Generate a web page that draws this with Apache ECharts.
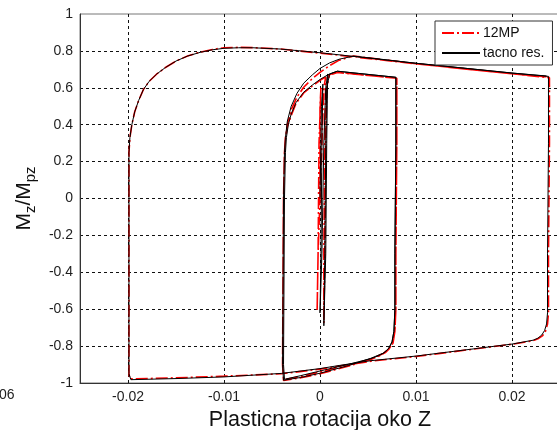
<!DOCTYPE html>
<html>
<head>
<meta charset="utf-8">
<script src="https://cdn.jsdelivr.net/npm/echarts@6/dist/echarts.min.js"></script>
<style>html,body{margin:0;padding:0;background:#fff;}#c{width:557px;height:430px;}</style>
</head>
<body>
<div id="c"></div>
<script>
// ---- data (x = plastic rotation, y = Mz/Mpz) ----
const xTickValues = [-0.02, -0.01, 0, 0.01, 0.02];
const yTickLabels = ['-1','-0.8','-0.6','-0.4','-0.2','0','0.2','0.4','0.6','0.8','1'];
const seriesNames = ['12MP', 'tacno res.'];

const tacnoInner = [
  [0,0],[0.00015,0.5],[0.0003,0.62],[0.0002,0.3],[0.0001,-0.3],[0.0,-0.62],[0.0002,-0.3],[0.0004,0.3],
  [0.0006,0.6],[0.0008,0.675],[0.0007,0.3],[0.0006,-0.3],[0.0004,-0.69],[0.0005,-0.3],[0.0006,0.3],
  [0.0007,0.6],[0.001,0.675],[0.0018,0.69]
];
const tacnoMedium = [
  [0.004,0.678],[0.0079,0.657],[0.0079,0.3],[0.0078,-0.3],[0.0078,-0.6],[0.0077,-0.72],[0.0075,-0.775],
  [0.0072,-0.81],[0.0068,-0.832],[0.0062,-0.85],[0.0053,-0.868],[0.003,-0.898],[0,-0.935],[-0.002,-0.96],
  [-0.0037,-0.98],[-0.0038,-0.9],[-0.0037,0],[-0.0036,0.25],[-0.0035,0.33],[-0.0033,0.4],[-0.003,0.458],
  [-0.0025,0.52],[-0.0017,0.576],[-0.0008,0.615],[0,0.645],[0.0008,0.67],[0.0018,0.69],
  [0.004,0.678],[0.0079,0.657],[0.0079,0.3],[0.0078,-0.3],[0.0078,-0.6],[0.0077,-0.72],[0.0075,-0.78],
  [0.0071,-0.815],[0.0066,-0.838],[0.0053,-0.866],[0.003,-0.905],[0,-0.947],[-0.002,-0.97],[-0.0038,-0.985],
  [-0.0039,-0.9],[-0.0038,0],[-0.0037,0.25],[-0.0036,0.33],[-0.0034,0.42],[-0.003,0.5],[-0.0024,0.57],
  [-0.0017,0.625],[-0.0008,0.67],[0,0.705],[0.001,0.735],[0.002,0.755],[0.0035,0.772]
];
const tacnoOuter = [
  [0.01,0.733],[0.02,0.68],[0.0238,0.662],[0.0238,0.3],[0.0237,-0.3],[0.0237,-0.62],[0.0236,-0.68],
  [0.0234,-0.715],[0.0231,-0.74],[0.0227,-0.757],[0.0222,-0.768],[0.02,-0.789],[0.01,-0.854],
  [0.0053,-0.879],[0.002,-0.905],[0,-0.922],[-0.004,-0.948],[-0.01,-0.967],[-0.015,-0.976],
  [-0.0197,-0.982],[-0.0199,-0.95],[-0.0199,0],[-0.0199,0.25],[-0.0198,0.33],[-0.0196,0.4],
  [-0.0193,0.47],[-0.0189,0.53],[-0.0184,0.59],[-0.0178,0.635],[-0.017,0.675],[-0.0161,0.71],
  [-0.015,0.745],[-0.0138,0.772],[-0.0125,0.792],[-0.0112,0.806],[-0.01,0.814],[-0.0085,0.817],
  [-0.007,0.817],[-0.0041,0.81],[0,0.79],[0.01,0.733],[0.02,0.68],[0.0236,0.664]
];

const mpInner = [
  [0,0],[0.0,0.5],[0.0001,0.6],[-0.0001,0.3],[-0.0002,-0.3],[-0.0003,-0.61],[-0.0002,-0.3],[0.0002,0.3],
  [0.0004,0.6],[0.0006,0.66],[0.0005,0.3],[0.0004,-0.3],[0.0004,-0.675],[0.0005,-0.3],[0.0006,0.3],
  [0.0007,0.6],[0.001,0.672],[0.0018,0.685]
];
const mpMedium = [
  [0.004,0.672],[0.008,0.652],[0.008,0.3],[0.0079,-0.3],[0.0079,-0.6],[0.0078,-0.72],[0.0076,-0.78],
  [0.0072,-0.815],[0.0068,-0.835],[0.0062,-0.853],[0.0053,-0.872],[0.003,-0.902],[0,-0.94],[-0.002,-0.965],
  [-0.0038,-0.982],[-0.0039,-0.9],[-0.0038,0],[-0.0037,0.25],[-0.0036,0.32],[-0.0034,0.39],[-0.003,0.45],
  [-0.0025,0.515],[-0.0017,0.572],[-0.0008,0.61],[0,0.64],[0.0008,0.665],[0.0018,0.683],
  [0.004,0.672],[0.008,0.652],[0.008,0.3],[0.0079,-0.3],[0.0079,-0.6],[0.0078,-0.72],[0.0076,-0.785],
  [0.0071,-0.82],[0.0066,-0.84],[0.0053,-0.87],[0.003,-0.908],[0,-0.95],[-0.002,-0.972],[-0.0038,-0.986],
  [-0.0039,-0.9],[-0.0038,0],[-0.0037,0.25],[-0.0036,0.33],[-0.0034,0.4],[-0.003,0.48],[-0.0024,0.55],
  [-0.0017,0.603],[-0.0008,0.65],[0,0.684],[0.001,0.72],[0.002,0.75],[0.0035,0.772]
];
const mpOuter = [
  [0.01,0.73],[0.02,0.676],[0.0239,0.655],[0.0239,0.3],[0.0238,-0.3],[0.0238,-0.62],[0.0237,-0.68],
  [0.0235,-0.718],[0.0232,-0.743],[0.0227,-0.76],[0.0222,-0.771],[0.02,-0.79],[0.01,-0.856],
  [0.0053,-0.882],[0.002,-0.908],[0,-0.925],[-0.004,-0.95],[-0.01,-0.963],[-0.015,-0.972],
  [-0.0198,-0.978],[-0.0199,-0.95],[-0.0199,0],[-0.0199,0.25],[-0.0198,0.33],[-0.0196,0.4],
  [-0.0193,0.47],[-0.0189,0.53],[-0.0184,0.59],[-0.0178,0.635],[-0.017,0.675],[-0.0161,0.71],
  [-0.015,0.745],[-0.0138,0.772],[-0.0125,0.793],[-0.0112,0.808],[-0.01,0.817],[-0.0085,0.819],
  [-0.007,0.818],[-0.0041,0.81],[0,0.788],[0.01,0.73],[0.02,0.676],[0.0236,0.66]
];

const tacnoData = tacnoInner.concat(tacnoMedium, tacnoOuter);
const mpData = mpInner.concat(mpMedium, mpOuter);

const FONT = 'Liberation Sans, Arial, sans-serif';
const chart = echarts.init(document.getElementById('c'), null, {renderer: 'canvas'});
chart.setOption({
  animation: false,
  backgroundColor: '#fff',
  grid: {left: 80, right: -3, top: 14, bottom: 47, containLabel: false, outerBoundsMode: 'none',
    show: true, borderColor: '#777', borderWidth: 1, backgroundColor: '#fff'},
  legend: {
    orient: 'vertical', left: 435, top: 21, data: seriesNames,
    backgroundColor: '#fff', borderColor: '#333', borderWidth: 1, padding: [5, 8, 5, 6],
    itemWidth: 38, itemHeight: 14, itemGap: 6,
    itemStyle: {opacity: 0},
    textStyle: {fontFamily: FONT, fontSize: 14, color: '#111', padding: [0,0,0,-2]}
  },
  xAxis: {
    type: 'value', min: -0.025, max: 0.025, interval: 0.005,
    axisLine: {show: true, onZero: false, lineStyle: {color: '#333', width: 1}},
    axisTick: {show: false, customValues: xTickValues},
    axisLabel: {customValues: xTickValues, margin: 7, fontFamily: FONT, fontSize: 14, color: '#1e1e1e',
      formatter: v => String(parseFloat(v.toFixed(3)))},
    splitLine: {show: true, lineStyle: {color: '#111', type: [3, 3], width: 1}},
    name: 'Plasticna rotacija oko Z', nameLocation: 'middle', nameGap: 21,
    nameTextStyle: {fontFamily: FONT, fontSize: 21.5, color: '#111'}
  },
  yAxis: {
    type: 'value', min: -1, max: 1, interval: 0.2,
    axisLine: {show: true, onZero: false, lineStyle: {color: '#333', width: 1}},
    axisTick: {show: false},
    axisLabel: {margin: 7, fontFamily: FONT, fontSize: 14, color: '#1e1e1e',
      formatter: v => yTickLabels[Math.round((v + 1) / 0.2)]},
    splitLine: {show: true, showMinLine: false, showMaxLine: false, lineStyle: {color: '#111', type: [3, 3], width: 1}},
    name: 'M{sub|z}/M{sub|pz}', nameLocation: 'middle', nameGap: 35,
    nameTextStyle: {fontFamily: FONT, fontSize: 21, color: '#111', lineHeight: 28,
      rich: {sub: {fontFamily: FONT, fontSize: 15, color: '#111', verticalAlign: 'bottom', lineHeight: 28, padding: [9, 0, 0, 0]}}}
  },
  series: [
    {name: seriesNames[0], type: 'line', data: mpData, symbol: 'none', showSymbol: false, smooth: false,
      lineStyle: {color: '#ff0000', width: 1.6, type: [12, 3, 2, 3]}, itemStyle: {color: '#ff0000'}, z: 2},
    {name: seriesNames[1], type: 'line', data: tacnoData, symbol: 'none', showSymbol: false, smooth: false,
      lineStyle: {color: '#000', width: 1}, itemStyle: {color: '#000'}, z: 3}
  ],
  graphic: [
    {type: 'text', left: -1, top: 388, style: {text: '06', font: '14px ' + FONT, fill: '#1e1e1e'}}
  ]
});
</script>
</body>
</html>
